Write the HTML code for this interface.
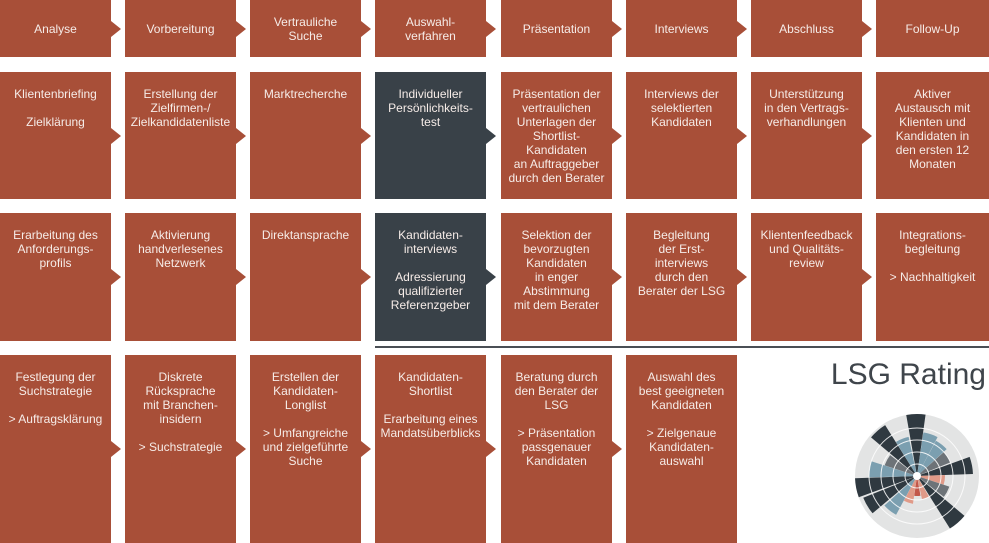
<!DOCTYPE html>
<html><head><meta charset="utf-8"><style>
body{margin:0;width:989px;height:543px;background:#fff;position:relative;overflow:hidden;font-family:"Liberation Sans","DejaVu Sans",sans-serif}
.b{position:absolute;background:#a84f38;color:#f6ece8;font-size:12px;line-height:14px;text-align:center;box-sizing:border-box;padding:15px 4px 0}
.d{background:#394148}
.h{display:flex;align-items:center;justify-content:center;padding:0 4px}
.b.a::after{content:"";position:absolute;right:-10px;top:50%;margin-top:-8px;border-left:10px solid currentColor;border-top:8px solid transparent;border-bottom:8px solid transparent;color:inherit}
.o.a::after{border-left-color:#a84f38}
.d.a::after{border-left-color:#394148}
</style></head><body>
<div class="b o a h" style="left:0;top:0;width:111px;height:57px">Analyse</div>
<div class="b o a h" style="left:125px;top:0;width:111px;height:57px">Vorbereitung</div>
<div class="b o a h" style="left:250px;top:0;width:111px;height:57px">Vertrauliche<br>Suche</div>
<div class="b o a h" style="left:375px;top:0;width:111px;height:57px">Auswahl-<br>verfahren</div>
<div class="b o a h" style="left:501px;top:0;width:111px;height:57px">Präsentation</div>
<div class="b o a h" style="left:626px;top:0;width:111px;height:57px">Interviews</div>
<div class="b o a h" style="left:751px;top:0;width:111px;height:57px">Abschluss</div>
<div class="b o h" style="left:876px;top:0;width:113px;height:57px">Follow-Up</div>
<div class="b o a" style="left:0;top:72px;width:111px;height:127px">Klientenbriefing<br><br>Zielklärung</div>
<div class="b o a" style="left:125px;top:72px;width:111px;height:127px">Erstellung der<br>Zielfirmen-/<br>Zielkandidatenliste</div>
<div class="b o a" style="left:250px;top:72px;width:111px;height:127px">Marktrecherche</div>
<div class="b d a" style="left:375px;top:72px;width:111px;height:127px">Individueller<br>Persönlichkeits-<br>test</div>
<div class="b o a" style="left:501px;top:72px;width:111px;height:127px">Präsentation der<br>vertraulichen<br>Unterlagen der<br>Shortlist-<br>Kandidaten<br>an Auftraggeber<br>durch den Berater</div>
<div class="b o a" style="left:626px;top:72px;width:111px;height:127px">Interviews der<br>selektierten<br>Kandidaten</div>
<div class="b o a" style="left:751px;top:72px;width:111px;height:127px">Unterstützung<br>in den Vertrags-<br>verhandlungen</div>
<div class="b o" style="left:876px;top:72px;width:113px;height:127px">Aktiver<br>Austausch mit<br>Klienten und<br>Kandidaten in<br>den ersten 12<br>Monaten</div>
<div class="b o a" style="left:0;top:213px;width:111px;height:128px">Erarbeitung des<br>Anforderungs-<br>profils</div>
<div class="b o a" style="left:125px;top:213px;width:111px;height:128px">Aktivierung<br>handverlesenes<br>Netzwerk</div>
<div class="b o a" style="left:250px;top:213px;width:111px;height:128px">Direktansprache</div>
<div class="b d a" style="left:375px;top:213px;width:111px;height:128px">Kandidaten-<br>interviews<br><br>Adressierung<br>qualifizierter<br>Referenzgeber</div>
<div class="b o a" style="left:501px;top:213px;width:111px;height:128px">Selektion der<br>bevorzugten<br>Kandidaten<br>in enger<br>Abstimmung<br>mit dem Berater</div>
<div class="b o a" style="left:626px;top:213px;width:111px;height:128px">Begleitung<br>der Erst-<br>interviews<br>durch den<br>Berater der LSG</div>
<div class="b o a" style="left:751px;top:213px;width:111px;height:128px">Klientenfeedback<br>und Qualitäts-<br>review</div>
<div class="b o" style="left:876px;top:213px;width:113px;height:128px">Integrations-<br>begleitung<br><br>&gt; Nachhaltigkeit</div>
<div class="b o a" style="left:0;top:355px;width:111px;height:188px">Festlegung der<br>Suchstrategie<br><br>&gt; Auftragsklärung</div>
<div class="b o a" style="left:125px;top:355px;width:111px;height:188px">Diskrete<br>Rücksprache<br>mit Branchen-<br>insidern<br><br>&gt; Suchstrategie</div>
<div class="b o a" style="left:250px;top:355px;width:111px;height:188px">Erstellen der<br>Kandidaten-<br>Longlist<br><br>&gt; Umfangreiche<br>und zielgeführte<br>Suche</div>
<div class="b o a" style="left:375px;top:355px;width:111px;height:188px">Kandidaten-<br>Shortlist<br><br>Erarbeitung eines<br>Mandatsüberblicks</div>
<div class="b o a" style="left:501px;top:355px;width:111px;height:188px">Beratung durch<br>den Berater der<br>LSG<br><br>&gt; Präsentation<br>passgenauer<br>Kandidaten</div>
<div class="b o" style="left:626px;top:355px;width:111px;height:188px">Auswahl des<br>best geeigneten<br>Kandidaten<br><br>&gt; Zielgenaue<br>Kandidaten-<br>auswahl</div>
<div style="position:absolute;left:375px;top:346px;width:614px;height:2px;background:#4a4f55"></div>
<div style="position:absolute;left:800px;top:357px;width:186px;text-align:right;font-size:30px;color:#3f454b;line-height:36px">LSG Rating</div>
<svg style="position:absolute;left:850px;top:410px" width="135" height="133" viewBox="-67 -66 135 133">
<circle r="62" fill="#e3e4e4"/>
<g fill="none" transform="rotate(-100)">
<circle r="31" stroke="#2f3940" stroke-width="62" pathLength="360" stroke-dasharray="18 342" transform="rotate(0)"/>
<circle r="22" stroke="#7b9fb0" stroke-width="44" pathLength="360" stroke-dasharray="18 342" transform="rotate(20)"/>
<circle r="20" stroke="#7b9fb0" stroke-width="40" pathLength="360" stroke-dasharray="18 342" transform="rotate(40)"/>
<circle r="18" stroke="#6d7378" stroke-width="36" pathLength="360" stroke-dasharray="18 342" transform="rotate(60)"/>
<circle r="28" stroke="#2f3940" stroke-width="56" pathLength="360" stroke-dasharray="18 342" transform="rotate(80)"/>
<circle r="14" stroke="#e09a88" stroke-width="28" pathLength="360" stroke-dasharray="18 342" transform="rotate(100)"/>
<circle r="17" stroke="#6d7378" stroke-width="34" pathLength="360" stroke-dasharray="18 342" transform="rotate(120)"/>
<circle r="31" stroke="#2f3940" stroke-width="62" pathLength="360" stroke-dasharray="18 342" transform="rotate(140)"/>
<circle r="12" stroke="#e09a88" stroke-width="24" pathLength="360" stroke-dasharray="18 342" transform="rotate(160)"/>
<circle r="10" stroke="#c2574a" stroke-width="20" pathLength="360" stroke-dasharray="18 342" transform="rotate(180)"/>
<circle r="14" stroke="#e09a88" stroke-width="28" pathLength="360" stroke-dasharray="18 342" transform="rotate(200)"/>
<circle r="22" stroke="#7b9fb0" stroke-width="44" pathLength="360" stroke-dasharray="18 342" transform="rotate(220)"/>
<circle r="29" stroke="#2f3940" stroke-width="58" pathLength="360" stroke-dasharray="18 342" transform="rotate(240)"/>
<circle r="31" stroke="#2f3940" stroke-width="62" pathLength="360" stroke-dasharray="18 342" transform="rotate(260)"/>
<circle r="24" stroke="#7b9fb0" stroke-width="48" pathLength="360" stroke-dasharray="18 342" transform="rotate(280)"/>
<circle r="17" stroke="#6d7378" stroke-width="34" pathLength="360" stroke-dasharray="18 342" transform="rotate(300)"/>
<circle r="30" stroke="#2f3940" stroke-width="60" pathLength="360" stroke-dasharray="18 342" transform="rotate(320)"/>
<circle r="20" stroke="#7b9fb0" stroke-width="40" pathLength="360" stroke-dasharray="18 342" transform="rotate(340)"/>
</g>
<g fill="none" stroke="#fff" stroke-width="1" opacity="0.85">
<circle r="12"/><circle r="24"/><circle r="36"/><circle r="48"/>
</g>
<circle r="4" fill="#fff"/>
</svg>
</body></html>
